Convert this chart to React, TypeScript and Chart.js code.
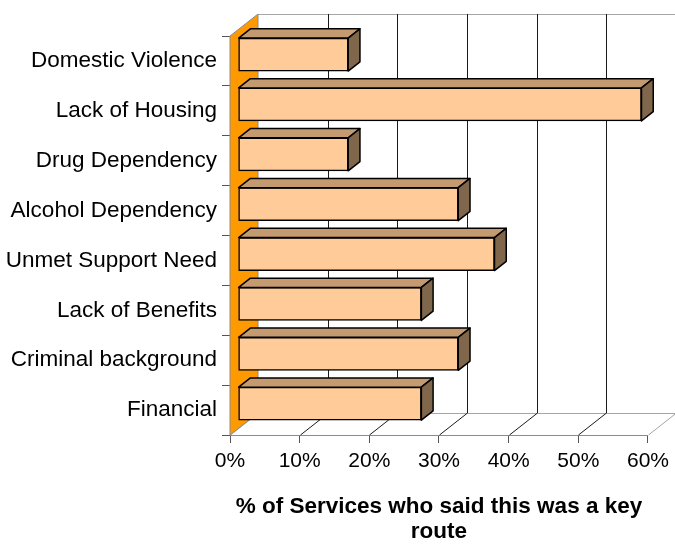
import React, { useEffect, useRef } from 'react';
import { Chart, registerables } from 'chart.js';

Chart.register(...registerables);

const categories = [
  'Domestic Violence',
  'Lack of Housing',
  'Drug Dependency',
  'Alcohol Dependency',
  'Unmet Support Need',
  'Lack of Benefits',
  'Criminal background',
  'Financial',
];
const values = [15.8, 57.9, 15.8, 31.6, 36.8, 26.3, 31.6, 26.3];
const xTickMax = 60;
const xTickStep = 10;
const axisTitle = ['% of Services who said this was a key', 'route'];

const FONT = '"Liberation Sans", Arial, Helvetica, sans-serif';
const DX = 28;
const DY = -22;
const F0 = 0.29;
const F1 = 0.71;

const threeD = {
  id: 'threeD',
  beforeDatasetsDraw(chart: any) {
    const { ctx, chartArea, scales } = chart;
    const xs = scales.x;
    const { top, bottom } = chartArea;
    const x0 = xs.getPixelForValue(0);
    const xm = xs.getPixelForValue(xs.max);
    ctx.save();
    ctx.lineWidth = 1;
    ctx.strokeStyle = '#a6a6a6';
    ctx.beginPath();
    ctx.moveTo(x0 + DX, top + DY + 0.5);
    ctx.lineTo(xm + DX, top + DY + 0.5);
    ctx.stroke();
    ctx.beginPath();
    ctx.moveTo(x0 + DX, bottom + DY + 0.5);
    ctx.lineTo(xm + DX, bottom + DY + 0.5);
    ctx.stroke();
    xs.ticks.forEach((t: any) => {
      const px = Math.round(xs.getPixelForValue(t.value)) + 0.5;
      const inner = t.value > 0 && t.value < xs.max;
      ctx.strokeStyle = inner ? '#1a1a1a' : '#a6a6a6';
      if (t.value > 0) {
        ctx.beginPath();
        ctx.moveTo(px + DX, top + DY);
        ctx.lineTo(px + DX, bottom + DY);
        ctx.stroke();
      }
      ctx.beginPath();
      ctx.moveTo(px, bottom);
      ctx.lineTo(px + DX, bottom + DY);
      ctx.stroke();
    });
    ctx.fillStyle = '#FF9900';
    ctx.strokeStyle = '#8c8c8c';
    ctx.beginPath();
    ctx.moveTo(x0, top);
    ctx.lineTo(x0 + DX, top + DY);
    ctx.lineTo(x0 + DX, bottom + DY);
    ctx.lineTo(x0, bottom);
    ctx.closePath();
    ctx.fill();
    ctx.stroke();
    ctx.restore();
    ctx.save();
    ctx.translate(DX * F0, DY * F0);
  },
  afterDatasetsDraw(chart: any) {
    const { ctx } = chart;
    ctx.restore();
    const meta = chart.getDatasetMeta(0);
    const fx = DX * F0;
    const fy = DY * F0;
    const bx = DX * (F1 - F0);
    const by = DY * (F1 - F0);
    ctx.save();
    ctx.lineWidth = 1.5;
    ctx.strokeStyle = '#000';
    ctx.lineJoin = 'round';
    meta.data.forEach((el: any) => {
      const { x, y, base, height } = el.getProps(['x', 'y', 'base', 'height'], true);
      const l = base + fx;
      const r = x + fx;
      const t = y - height / 2 + fy;
      const b = y + height / 2 + fy;
      ctx.fillStyle = '#C49A70';
      ctx.beginPath();
      ctx.moveTo(l, t);
      ctx.lineTo(l + bx, t + by);
      ctx.lineTo(r + bx, t + by);
      ctx.lineTo(r, t);
      ctx.closePath();
      ctx.fill();
      ctx.stroke();
      ctx.fillStyle = '#80664A';
      ctx.beginPath();
      ctx.moveTo(r, t);
      ctx.lineTo(r + bx, t + by);
      ctx.lineTo(r + bx, b + by);
      ctx.lineTo(r, b);
      ctx.closePath();
      ctx.fill();
      ctx.stroke();
    });
    ctx.restore();
  },
};

export default function App() {
  const ref = useRef<HTMLCanvasElement>(null);
  useEffect(() => {
    const chart = new Chart(ref.current as HTMLCanvasElement, {
      type: 'bar',
      data: {
        labels: categories,
        datasets: [
          {
            data: values,
            backgroundColor: '#FFCC99',
            borderColor: '#000',
            borderWidth: 1.5,
            borderSkipped: false,
            barThickness: 33,
            clip: false,
          } as any,
        ],
      },
      options: {
        indexAxis: 'y',
        responsive: false,
        animation: false,
        devicePixelRatio: 1,
        layout: { padding: { top: 36, right: 25, left: 0, bottom: 0 } },
        plugins: { legend: { display: false }, tooltip: { enabled: false } },
        scales: {
          y: {
            type: 'category',
            z: 1,
            grid: { drawOnChartArea: false, tickLength: 8, tickColor: '#555', offset: true },
            border: { color: '#555' },
            ticks: { padding: 5, color: '#000', autoSkip: false, font: { size: 22.5, family: FONT } },
            afterFit: (s: any) => {
              s.width = 230;
            },
          },
          x: {
            type: 'linear',
            z: 1,
            min: 0,
            max: xTickMax,
            grid: { drawOnChartArea: false, tickLength: 8, tickColor: '#555' },
            border: { color: '#8c8c8c' },
            ticks: {
              stepSize: xTickStep,
              padding: 6,
              color: '#000',
              font: { size: 21, family: FONT },
              callback: (v: any) => v + '%',
            },
            title: {
              display: true,
              text: axisTitle,
              color: '#000',
              font: { size: 22.5, weight: 'bold', family: FONT, lineHeight: '25px' },
              padding: { top: 0, bottom: 0 },
            },
            afterFit: (s: any) => {
              s.height = 109;
            },
          },
        },
      } as any,
      plugins: [threeD],
    });
    return () => chart.destroy();
  }, []);
  return (
    <div style={{ position: 'absolute', left: 0, top: 0, width: 675, height: 544, background: '#fff' }}>
      <canvas ref={ref} width={675} height={544} style={{ display: 'block' }} />
    </div>
  );
}
